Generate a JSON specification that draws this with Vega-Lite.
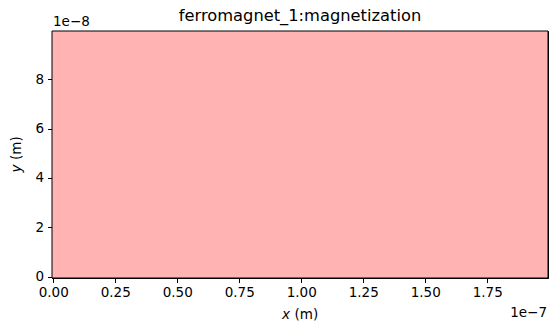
{
  "$schema": "https://vega.github.io/schema/vega-lite/v6.json",
  "autosize": {"type": "none"},
  "width": 496,
  "height": 247,
  "padding": {"left": 52, "top": 31, "right": 10, "bottom": 55},
  "background": "white",
  "config": {
    "font": "DejaVu Sans",
    "view": {"stroke": "black", "strokeWidth": 1},
    "axis": {
      "grid": false,
      "domainColor": "black",
      "domainWidth": 1,
      "tickColor": "black",
      "tickWidth": 1,
      "tickSize": 4.5,
      "labelColor": "black",
      "labelFontSize": 13.5,
      "labelFont": "DejaVu Sans",
      "titleFont": "DejaVu Sans",
      "titleFontSize": 13.5,
      "titleFontWeight": "normal",
      "titleColor": "black"
    },
    "text": {"font": "DejaVu Sans", "fontSize": 13.5, "color": "black", "baseline": "alphabetic"}
  },
  "title": {
    "text": "ferromagnet_1:magnetization",
    "fontSize": 16.3,
    "fontWeight": "normal",
    "font": "DejaVu Sans",
    "color": "black",
    "baseline": "alphabetic",
    "frame": "group",
    "offset": -22
  },
  "layer": [
    {
      "data": {"values": [{"x0": -0.5e-9, "x1": 199.5e-9, "y0": -0.5e-9, "y1": 99.5e-9}]},
      "mark": {"type": "rect", "color": "#ffb3b3", "stroke": "black", "strokeWidth": 1},
      "encoding": {
        "x": {
          "field": "x0", "type": "quantitative",
          "scale": {"domain": [-0.5e-9, 199.5e-9], "nice": false, "zero": false},
          "axis": {
            "title": null,
            "values": [0, 0.25e-7, 0.5e-7, 0.75e-7, 1e-7, 1.25e-7, 1.5e-7, 1.75e-7],
            "labelExpr": "format(datum.value/1e-7, '.2f')",
            "labelPadding": 3,
            "labelFlush": false
          }
        },
        "x2": {"field": "x1"},
        "y": {
          "field": "y0", "type": "quantitative",
          "scale": {"domain": [-0.5e-9, 99.5e-9], "nice": false, "zero": false},
          "axis": {
            "title": null,
            "values": [0, 2e-8, 4e-8, 6e-8, 8e-8],
            "labelExpr": "format(round(datum.value/1e-8), 'd')",
            "labelPadding": 4,
            "labelFlush": false
          }
        },
        "y2": {"field": "y1"}
      }
    },
    {
      "data": {"values": [{"x0": -0.5e-9, "y0": 99.5e-9, "label": "1e−8"}]},
      "mark": {"type": "text", "align": "left", "dx": 1, "dy": -5},
      "encoding": {
        "x": {"field": "x0", "type": "quantitative"},
        "y": {"field": "y0", "type": "quantitative"},
        "text": {"field": "label"}
      }
    },
    {
      "data": {"values": [{"x0": 199.5e-9, "y0": -0.5e-9, "label": "1e−7"}]},
      "mark": {"type": "text", "align": "right", "dx": -1, "dy": 39},
      "encoding": {
        "x": {"field": "x0", "type": "quantitative"},
        "y": {"field": "y0", "type": "quantitative"},
        "text": {"field": "label"}
      }
    },
    {
      "data": {"values": [{"x0": 99.5e-9, "y0": -0.5e-9, "label": "x"}]},
      "mark": {"type": "text", "align": "left", "fontStyle": "italic", "dx": -18, "dy": 41},
      "encoding": {
        "x": {"field": "x0", "type": "quantitative"},
        "y": {"field": "y0", "type": "quantitative"},
        "text": {"field": "label"}
      }
    },
    {
      "data": {"values": [{"x0": 99.5e-9, "y0": -0.5e-9, "label": "(m)"}]},
      "mark": {"type": "text", "align": "left", "dx": -5.5, "dy": 41},
      "encoding": {
        "x": {"field": "x0", "type": "quantitative"},
        "y": {"field": "y0", "type": "quantitative"},
        "text": {"field": "label"}
      }
    },
    {
      "data": {"values": [{"x0": -0.5e-9, "y0": 49.5e-9, "label": "y"}]},
      "mark": {"type": "text", "align": "left", "angle": 270, "fontStyle": "italic", "dx": -18, "dy": -31},
      "encoding": {
        "x": {"field": "x0", "type": "quantitative"},
        "y": {"field": "y0", "type": "quantitative"},
        "text": {"field": "label"}
      }
    },
    {
      "data": {"values": [{"x0": -0.5e-9, "y0": 49.5e-9, "label": "(m)"}]},
      "mark": {"type": "text", "align": "left", "angle": 270, "dx": -5.5, "dy": -31},
      "encoding": {
        "x": {"field": "x0", "type": "quantitative"},
        "y": {"field": "y0", "type": "quantitative"},
        "text": {"field": "label"}
      }
    }
  ]
}
